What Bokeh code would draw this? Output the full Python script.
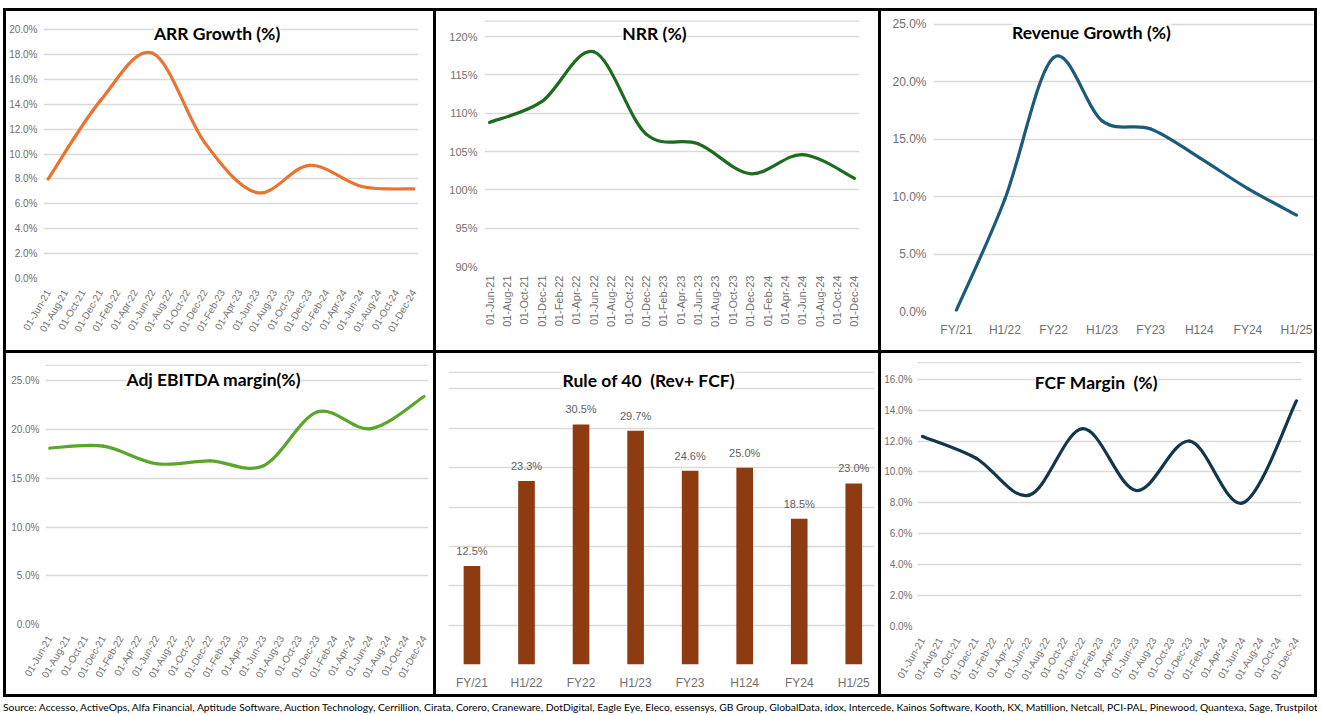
import numpy as np
from bokeh.plotting import figure
from bokeh.models import FixedTicker, Range1d, Label, Span, Div
from bokeh.layouts import column, row
from bokeh.embed import file_html
from bokeh.resources import INLINE
from bokeh.core.properties import value

# ---------------- data ----------------
dates = ["01-Jun-21", "01-Aug-21", "01-Oct-21", "01-Dec-21", "01-Feb-22", "01-Apr-22",
         "01-Jun-22", "01-Aug-22", "01-Oct-22", "01-Dec-22", "01-Feb-23", "01-Apr-23",
         "01-Jun-23", "01-Aug-23", "01-Oct-23", "01-Dec-23", "01-Feb-24", "01-Apr-24",
         "01-Jun-24", "01-Aug-24", "01-Oct-24", "01-Dec-24"]
half_year_dates = ["01-Jun-21", "01-Dec-21", "01-Jun-22", "01-Dec-22",
                   "01-Jun-23", "01-Dec-23", "01-Jun-24", "01-Dec-24"]
periods = ["FY/21", "H1/22", "FY22", "H1/23", "FY23", "H124", "FY24", "H1/25"]

arr_growth = [8.0, 14.3, 18.1, 10.9, 6.9, 9.1, 7.4, 7.2]
nrr = [108.8, 111.5, 118.0, 107.3, 106.0, 102.1, 104.6, 101.5]
revenue_growth = [0.1, 9.8, 22.1, 16.6, 15.9, 13.4, 10.7, 8.4]
adj_ebitda_margin = [18.1, 18.3, 16.5, 16.8, 16.3, 21.8, 20.1, 23.4]
rule_of_40 = [12.5, 23.3, 30.5, 29.7, 24.6, 25.0, 18.5, 23.0]
fcf_margin = [12.3, 10.9, 8.5, 12.8, 8.8, 12.0, 8.0, 14.6]

arr_ticks = [0, 2, 4, 6, 8, 10, 12, 14, 16, 18, 20]
arr_tick_labels = ["0.0%", "2.0%", "4.0%", "6.0%", "8.0%", "10.0%", "12.0%", "14.0%", "16.0%", "18.0%", "20.0%"]
nrr_ticks = [90, 95, 100, 105, 110, 115, 120]
nrr_tick_labels = ["90%", "95%", "100%", "105%", "110%", "115%", "120%"]
rev_ticks = [0, 5, 10, 15, 20, 25]
rev_tick_labels = ["0.0%", "5.0%", "10.0%", "15.0%", "20.0%", "25.0%"]
ebitda_ticks = [0, 5, 10, 15, 20, 25]
ebitda_tick_labels = ["0.0%", "5.0%", "10.0%", "15.0%", "20.0%", "25.0%"]
rule_ticks = [0, 5, 10, 15, 20, 25, 30, 35]
fcf_ticks = [0, 2, 4, 6, 8, 10, 12, 14, 16]
fcf_tick_labels = ["0.0%", "2.0%", "4.0%", "6.0%", "8.0%", "10.0%", "12.0%", "14.0%", "16.0%"]

source_text = ("Source: Accesso, ActiveOps, Alfa Financial, Aptitude Software, Auction Technology, "
               "Cerrillion, Cirata, Corero, Craneware, DotDigital, Eagle Eye, Eleco, essensys, "
               "GB Group, GlobalData, idox, Intercede, Kainos Software, Kooth, KX, Matillion, "
               "Netcall, PCI-PAL, Pinewood, Quantexa, Sage, Trustpilot")

# ---------------- styling ----------------
GRID = "#d9d9d9"
TICK = "#707070"
NARROW = "Liberation Sans Narrow, Liberation Sans"
REG = "Liberation Sans"
TITLE_FONT = "Lato"

date_x = [dates.index(d) for d in half_year_dates]
date_idx = list(range(len(dates)))
period_idx = list(range(len(periods)))


def make_fig(W, H, L, R, T, B, xr, yr):
    p = figure(width=W, height=H, x_range=Range1d(*xr), y_range=Range1d(*yr),
               output_backend="svg", toolbar_location=None, frame_align=False,
               min_border_left=L, min_border_right=R, min_border_top=T, min_border_bottom=B,
               background_fill_color="white", border_fill_color="white",
               outline_line_color=None)
    p.xgrid.visible = False
    p.ygrid.grid_line_color = GRID
    p.ygrid.grid_line_width = 1.3
    for ax in p.axis:
        ax.axis_line_color = None
        ax.major_tick_line_color = None
        ax.minor_tick_line_color = None
        ax.major_tick_out = 0
        ax.major_tick_in = 0
        ax.major_label_text_color = TICK
    return p


def set_y(p, ticks, labels, size, font=NARROW, standoff=6):
    p.yaxis.ticker = FixedTicker(ticks=ticks)
    p.yaxis.major_label_overrides = {t: l for t, l in zip(ticks, labels)}
    p.yaxis.major_label_text_font = font
    p.yaxis.major_label_text_font_size = size
    p.yaxis.major_label_standoff = standoff


def set_x(p, idx, labels, size, orientation, font=REG, standoff=10):
    p.xaxis.ticker = FixedTicker(ticks=idx)
    p.xaxis.major_label_overrides = {i: l for i, l in zip(idx, labels)}
    p.xaxis.major_label_text_font = font
    p.xaxis.major_label_text_font_size = size
    p.xaxis.major_label_orientation = orientation
    p.xaxis.major_label_standoff = standoff


def smooth_line(p, xs, ys, color, width=3.2):
    n = len(xs)
    P = list(zip(xs, ys))
    d = {k: [] for k in ["x0", "y0", "x1", "y1", "cx0", "cy0", "cx1", "cy1"]}
    for i in range(n - 1):
        pm, p0, p1, p2 = P[max(i - 1, 0)], P[i], P[i + 1], P[min(i + 2, n - 1)]
        d["x0"].append(p0[0]); d["y0"].append(p0[1])
        d["x1"].append(p1[0]); d["y1"].append(p1[1])
        d["cx0"].append(p0[0] + (p1[0] - pm[0]) / 6.0)
        d["cy0"].append(p0[1] + (p1[1] - pm[1]) / 6.0)
        d["cx1"].append(p1[0] - (p2[0] - p0[0]) / 6.0)
        d["cy1"].append(p1[1] - (p2[1] - p0[1]) / 6.0)
    p.bezier(x0="x0", y0="y0", x1="x1", y1="y1", cx0="cx0", cy0="cy0", cx1="cx1", cy1="cy1",
             source=d, line_color=color, line_width=width, line_cap="round", line_join="round")


def title(p, x, y, text):
    p.add_layout(Label(x=x, y=y, text=text, text_font=TITLE_FONT, text_font_style="bold",
                       text_font_size="17.5px", text_color="black", text_align="center",
                       text_baseline="middle", background_fill_color="white"))


def top_line(p, y):
    p.add_layout(Span(location=y, dimension="width", line_color=GRID, line_width=1.3))


ROT = np.pi / 3
NBSP = "\u00a0"

# ARR Growth
p1 = make_fig(427, 339, 36, 15, 7, 72, (-0.27, 21.27), (0, 20.9))
set_y(p1, arr_ticks, arr_tick_labels, "10px")
set_x(p1, date_idx, dates, "10px", ROT, standoff=12)
smooth_line(p1, date_x, arr_growth, "#E8742F")
title(p1, 9.7, 19.73, "ARR Growth (%)")

# NRR
p2 = make_fig(442, 339, 48, 19, 2, 84, (-0.29, 21.29), (90, 123))
set_y(p2, nrr_ticks, nrr_tick_labels, "11px", standoff=7)
set_x(p2, date_idx, dates, "11px", np.pi / 2, standoff=9)
top_line(p2, 122)
smooth_line(p2, date_x, nrr, "#1E6A1E")
title(p2, 9.49, 120.4, "NRR (%)")

# Revenue Growth
p3 = make_fig(433, 339, 52, 1, 6, 39, (-0.47, 7.35), (0, 25.6))
set_y(p3, rev_ticks, rev_tick_labels, "12px", standoff=7)
set_x(p3, period_idx, periods, "12px", "horizontal", font=NARROW, standoff=11)
smooth_line(p3, period_idx, revenue_growth, "#1C5A7A")
title(p3, 2.78, 24.27, "Revenue Growth (%)")

# Adj EBITDA margin
p4 = make_fig(427, 341, 39, 5, 5, 70, (-0.24, 21.25), (0, 27.3))
set_y(p4, ebitda_ticks, ebitda_tick_labels, "10px")
set_x(p4, date_idx, dates, "10px", ROT, standoff=12)
top_line(p4, 26.6)
smooth_line(p4, date_x, adj_ebitda_margin, "#5AA52C")
title(p4, 9.2, 25.1, "Adj EBITDA margin(%)")

# Rule of 40
p5 = make_fig(442, 341, 12, 4, 4, 30, (-0.43, 7.38), (0, 39))
p5.yaxis.visible = False
p5.ygrid.ticker = FixedTicker(ticks=rule_ticks)
set_x(p5, period_idx, periods, "12px", "horizontal", font=NARROW, standoff=11)
top_line(p5, 37.1)
p5.vbar(x=period_idx, top=rule_of_40, width=0.305, fill_color="#8E3B11", line_color=None)
p5.text(x=period_idx, y=rule_of_40, text=[f"{v:.1f}%" for v in rule_of_40],
        text_font=value(NARROW), text_font_size="11px", text_color="#606060",
        text_align="center", text_baseline="bottom", y_offset=-9)
title(p5, 3.24, 36.1, "Rule of 40" + NBSP + " (Rev+ FCF)")

# FCF Margin
p6 = make_fig(433, 341, 30, 13, 1, 68, (-0.28, 21.28), (0, 17.6))
set_y(p6, fcf_ticks, fcf_tick_labels, "10px", standoff=5)
set_x(p6, date_idx, dates, "10px", ROT, standoff=12)
top_line(p6, 17.07)
smooth_line(p6, date_x, fcf_margin, "#13374A")
title(p6, 9.76, 15.8, "FCF Margin" + NBSP + " (%)")


def black(w, h):
    return Div(text="", width=w, height=h, margin=0, styles={"background-color": "black"})


TOTAL_W = 3 + 427 + 3 + 442 + 3 + 433 + 3
row1 = row(black(3, 339), p1, black(3, 339), p2, black(3, 339), p3, black(3, 339))
row2 = row(black(3, 341), p4, black(3, 341), p5, black(3, 341), p6, black(3, 341))
src = Div(text=source_text, width=TOTAL_W, height=18, margin=0,
          styles={"font-family": "Lato", "font-size": "10.3px", "color": "black",
                  "white-space": "nowrap", "overflow": "hidden", "line-height": "13px",
                  "padding-top": "4px"})
layout = column(black(TOTAL_W, 3), row1, black(TOTAL_W, 3), row2, black(TOTAL_W, 3), src,
                margin=(8, 0, 0, 3))

open("out.html", "w").write(file_html(layout, INLINE))
